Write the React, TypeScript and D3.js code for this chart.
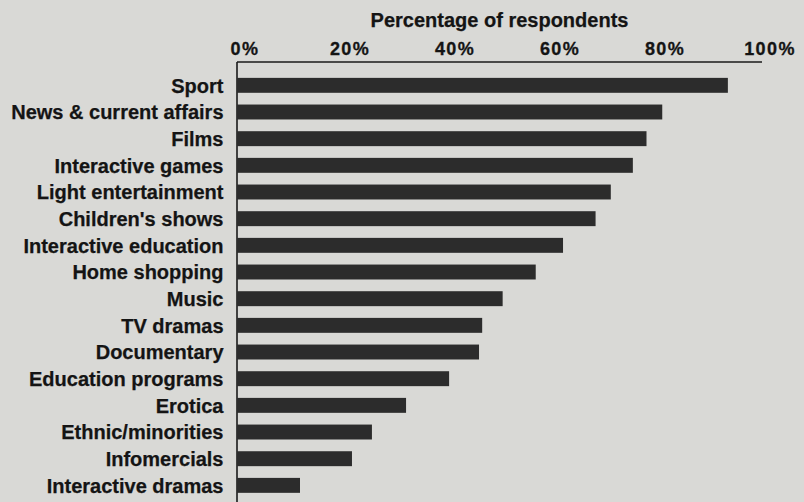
import React from "react";
import * as d3 from "d3";

const categories: string[] = [
  "Sport",
  "News & current affairs",
  "Films",
  "Interactive games",
  "Light entertainment",
  "Children's shows",
  "Interactive education",
  "Home shopping",
  "Music",
  "TV dramas",
  "Documentary",
  "Education programs",
  "Erotica",
  "Ethnic/minorities",
  "Infomercials",
  "Interactive dramas",
];

const values: number[] = [93.5, 81, 78, 75.4, 71.2, 68.3, 62.1, 56.9, 50.6, 46.7, 46.1, 40.4, 32.2, 25.7, 21.9, 12];

const tickValues: number[] = [0, 20, 40, 60, 80, 100];
const tickLabels: string[] = ["0%", "20%", "40%", "60%", "80%", "100%"];

const axisTitle = "Percentage of respondents";

const W = 804;
const H = 502;
const FONT = "'Liberation Sans', Arial, sans-serif";

export default function App() {
  const x = d3.scaleLinear().domain([0, 100]).range([237, 762]);
  const y = d3
    .scaleBand<string>()
    .domain(categories)
    .range([72, 498.7])
    .paddingInner(0.44)
    .paddingOuter(0.22);

  const axisY = 62;

  return (
    <svg
      width={W}
      height={H}
      style={{ position: "absolute", left: 0, top: 0, background: "#d9d9d6" }}
    >
      <rect x={0} y={0} width={W} height={H} fill="#d9d9d6" />
      <text
        x={(x(0) + x(100)) / 2}
        y={26.5}
        textAnchor="middle"
        fontFamily={FONT}
        fontWeight="bold"
        fontSize={20}
        fill="#141414"
        stroke="#141414"
        strokeWidth={0.25}
      >
        {axisTitle}
      </text>
      {tickValues.map((v, i) => (
        <text
          key={v}
          x={x(v) + 8}
          y={54.5}
          textAnchor="middle"
          fontFamily={FONT}
          fontWeight="bold"
          fontSize={18}
          letterSpacing={1.4}
          fill="#141414"
          stroke="#141414"
          strokeWidth={0.3}
        >
          {tickLabels[i]}
        </text>
      ))}
      <line x1={x(0)} x2={x(100)} y1={axisY} y2={axisY} stroke="#1a1a1a" strokeWidth={1.6} />
      <line x1={x(0)} x2={x(0)} y1={axisY} y2={H} stroke="#1a1a1a" strokeWidth={1.6} />
      {categories.map((c, i) => (
        <g key={c}>
          <rect
            x={x(0)}
            y={y(c)!}
            width={x(values[i]) - x(0)}
            height={y.bandwidth()}
            fill="#2c2c2c"
          />
          <text
            x={223.5}
            y={y(c)! + y.bandwidth() / 2 + 7.2}
            textAnchor="end"
            fontFamily={FONT}
            fontWeight="bold"
            fontSize={20}
            fill="#141414"
            stroke="#141414"
            strokeWidth={0.25}
          >
            {c}
          </text>
        </g>
      ))}
    </svg>
  );
}
